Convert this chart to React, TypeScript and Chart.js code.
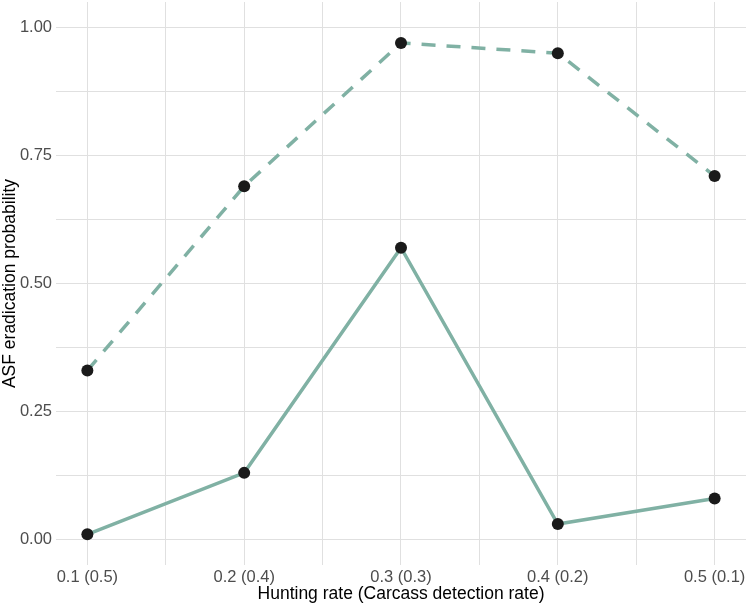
import React, { useEffect, useRef } from "react";
import { Chart, registerables } from "chart.js";

Chart.register(...registerables);

const huntingRates = [0.1, 0.2, 0.3, 0.4, 0.5];
const xTickLabels = ["0.1 (0.5)", "0.2 (0.4)", "0.3 (0.3)", "0.4 (0.2)", "0.5 (0.1)"];
const dashedSeries = [0.33, 0.69, 0.97, 0.95, 0.71];
const solidSeries = [0.01, 0.13, 0.57, 0.03, 0.08];
const yTickValues = [0, 0.25, 0.5, 0.75, 1];
const yTickLabels = ["0.00", "0.25", "0.50", "0.75", "1.00"];

const LINE = "#80B1A4";
const POINT = "#1a1a1a";
const GRID = "#e0e0e0";

export default function App() {
  const ref = useRef<HTMLCanvasElement | null>(null);
  useEffect(() => {
    if (!ref.current) return;
    const mk = (vals: number[]) => huntingRates.map((x, i) => ({ x, y: vals[i] }));
    const chart = new Chart(ref.current, {
      type: "line",
      data: {
        datasets: [
          {
            data: mk(solidSeries),
            borderColor: LINE,
            borderWidth: 3.5,
            pointRadius: 6,
            pointBackgroundColor: POINT,
            pointBorderColor: POINT,
            pointBorderWidth: 0,
            tension: 0,
          },
          {
            data: mk(dashedSeries),
            borderColor: LINE,
            borderWidth: 3.5,
            borderDash: [14, 11],
            pointRadius: 6,
            pointBackgroundColor: POINT,
            pointBorderColor: POINT,
            pointBorderWidth: 0,
            tension: 0,
          },
        ],
      },
      options: {
        animation: false,
        responsive: false,
        maintainAspectRatio: false,
        layout: { autoPadding: false, padding: { top: 2, right: 2, left: 0, bottom: 0 } },
        plugins: { legend: { display: false }, tooltip: { enabled: false } },
        scales: {
          x: {
            type: "linear",
            min: 0.08,
            max: 0.52,
            afterBuildTicks: (s: any) => {
              const t: any[] = [];
              for (let i = 0; i < huntingRates.length; i++) {
                t.push({ value: huntingRates[i] });
                if (i < huntingRates.length - 1) t.push({ value: (huntingRates[i] + huntingRates[i + 1]) / 2 });
              }
              s.ticks = t;
            },
            afterFit: (s: any) => {
              s.height = 40;
              s.paddingLeft = 0;
              s.paddingRight = 0;
            },
            border: { display: false },
            grid: { color: GRID, lineWidth: 1, drawTicks: false },
            ticks: {
              autoSkip: false,
              maxRotation: 0,
              padding: 3,
              color: "#4d4d4d",
              font: { family: "Liberation Sans, Arial, sans-serif", size: 16.5 },
              callback: (v: any) => {
                const i = huntingRates.findIndex((h) => Math.abs(h - Number(v)) < 1e-6);
                return i >= 0 ? xTickLabels[i] : "";
              },
            },
            title: {
              display: true,
              text: "Hunting rate (Carcass detection rate)",
              color: "#000000",
              padding: 0,
              font: { family: "Liberation Sans, Arial, sans-serif", size: 17.5, lineHeight: 1.2 },
            },
          },
          y: {
            type: "linear",
            min: -0.05,
            max: 1.05,
            afterBuildTicks: (s: any) => {
              const t: any[] = [];
              for (let i = 0; i < yTickValues.length; i++) {
                t.push({ value: yTickValues[i] });
                if (i < yTickValues.length - 1) t.push({ value: (yTickValues[i] + yTickValues[i + 1]) / 2 });
              }
              s.ticks = t;
            },
            afterFit: (s: any) => {
              s.width = 56;
              s.paddingTop = 0;
              s.paddingBottom = 0;
            },
            border: { display: false },
            grid: { color: GRID, lineWidth: 1, drawTicks: false },
            ticks: {
              autoSkip: false,
              padding: 4,
              color: "#4d4d4d",
              font: { family: "Liberation Sans, Arial, sans-serif", size: 16.5 },
              callback: (v: any) => {
                const i = yTickValues.findIndex((h) => Math.abs(h - Number(v)) < 1e-6);
                return i >= 0 ? yTickLabels[i] : "";
              },
            },
            title: {
              display: true,
              text: "ASF eradication probability",
              color: "#000000",
              padding: 0,
              font: { family: "Liberation Sans, Arial, sans-serif", size: 17.5, lineHeight: 1.2 },
            },
          },
        },
      },
    });
    return () => chart.destroy();
  }, []);
  return (
    <div style={{ position: "absolute", left: 0, top: 0, width: 748, height: 605, background: "#fff" }}>
      <canvas ref={ref} width={748} height={605} style={{ width: 748, height: 605, display: "block" }} />
    </div>
  );
}
